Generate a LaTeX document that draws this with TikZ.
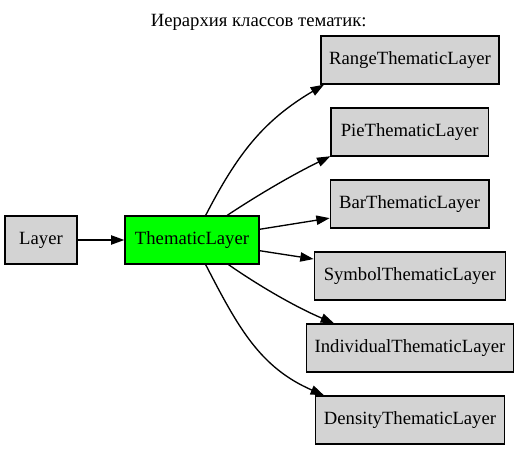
\documentclass[tikz,border=0pt]{standalone}
\usepackage{fontspec}
\setmainfont{Liberation Serif}
\usetikzlibrary{arrows.meta}
\definecolor{lgray}{HTML}{D3D3D3}
\definecolor{vgreen}{HTML}{00FF00}
\begin{document}
\begin{tikzpicture}[x=0.75pt,y=-0.75pt,
  cls/.style={draw=black, line width=1pt, fill=lgray, minimum height=36pt, inner sep=0pt,
    font=\fontsize{14}{16.8}\selectfont},
  focus/.style={cls, fill=vgreen},
  edge/.style={draw=black, line width=1pt, -{Triangle[length=10pt,width=7pt]}},
  ttl/.style={font=\fontsize{14}{16.8}\selectfont, inner sep=0pt, anchor=base}]
\useasboundingbox (0,0) rectangle (519,449);
\node[ttl] (title) at (258.7,26.5) {Иерархия классов тематик:};
\node[cls, minimum width=54pt] (layer) at (41,240) {Layer};
\node[focus, minimum width=100.5pt] (tl) at (192,240) {ThematicLayer};
\node[cls, minimum width=133.5pt] (range) at (410,60) {RangeThematicLayer};
\node[cls, minimum width=118pt] (pie) at (409.7,132) {PieThematicLayer};
\node[cls, minimum width=119pt] (bar) at (409.7,204) {BarThematicLayer};
\node[cls, minimum width=143.25pt] (symbol) at (409.8,276) {SymbolThematicLayer};
\node[cls, minimum width=155pt] (indiv) at (410,348) {IndividualThematicLayer};
\node[cls, minimum width=142pt] (density) at (410,420) {DensityThematicLayer};
\draw[edge] (layer) -- (tl);
\draw[edge] (tl.61.6) .. controls +(32.2,-62.3) and +(-60.2,35.7) .. (range.196.1);
\draw[edge] (tl.35.2) .. controls +(33.2,-22) and +(-36,17.6) .. (pie.197);
\draw[edge] (tl.9.6) -- (bar.190);
\draw[edge] (tl.-9.3) -- (symbol.170.5);
\draw[edge] (tl.-34.7) .. controls +(32.8,22.8) and +(-36.8,-15.6) .. (indiv.162.9);
\draw[edge] (tl.-61.6) .. controls +(32.2,62.3) and +(-64.4,-28) .. (density.164.4);
\end{tikzpicture}
\end{document}
